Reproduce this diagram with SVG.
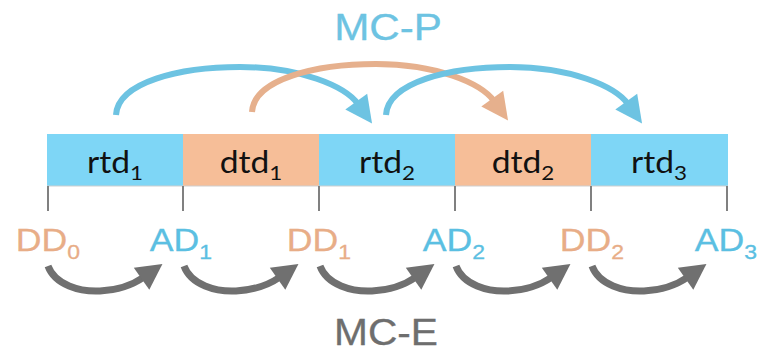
<svg xmlns="http://www.w3.org/2000/svg" width="761" height="353" viewBox="0 0 761 353">
<style>
.rt{fill:#7ED6F6}
.dt{fill:#F6BE98}
.bt{font-family:Lato,"Open Sans",sans-serif;font-size:30px;fill:#111}
.bs{font-size:20px}
.tick{stroke:#808080;stroke-width:2}
.lb{font-family:"Liberation Sans",Arial,sans-serif;font-size:31px;stroke-width:0.3}
.ls{font-size:20px}
.dd{fill:#E8AD87;stroke:#E8AD87}
.ad{fill:#5BBFE2;stroke:#5BBFE2}
.ttl{font-family:"Liberation Sans",Arial,sans-serif;font-size:37px;stroke-width:0.3}
.pb{fill:none;stroke:#6DC3E2;stroke-width:6}
.po{fill:none;stroke:#E6B08D;stroke-width:6}
.pe{fill:none;stroke:#707070;stroke-width:7}
</style>
<defs>
<marker id="mb" markerUnits="userSpaceOnUse" markerWidth="30" markerHeight="30" refX="2" refY="0" viewBox="0 -10 20 20" orient="auto" overflow="visible"><path d="M0,-9 L18,0 L0,9 z" fill="#6DC3E2"/></marker>
<marker id="mo" markerUnits="userSpaceOnUse" markerWidth="30" markerHeight="30" refX="2" refY="0" viewBox="0 -10 20 20" orient="auto" overflow="visible"><path d="M0,-9 L18,0 L0,9 z" fill="#E6B08D"/></marker>
<marker id="me" markerUnits="userSpaceOnUse" markerWidth="30" markerHeight="30" refX="2" refY="0" viewBox="0 -10 20 20" orient="auto" overflow="visible"><path d="M0,-9 L17,0 L0,9 z" fill="#707070"/></marker>
</defs>
<g id="title-mcp"><text class="ttl" transform="translate(388,40) scale(1.14,1)" text-anchor="middle" fill="#6DC3E2" stroke="#6DC3E2">MC-P</text></g>
<g id="title-mce"><text class="ttl" transform="translate(386,345) scale(1.1,1)" text-anchor="middle" fill="#6E6E6E" stroke="#6E6E6E">MC-E</text></g>
<g id="seg-rtd1"><rect class="rt" x="47" y="134" width="136" height="52"/><text class="bt" transform="translate(115,173) scale(1.12,1)" text-anchor="middle">rtd<tspan class="bs" dy="7">1</tspan></text></g>
<g id="seg-dtd1"><rect class="dt" x="183" y="134" width="136" height="52"/><text class="bt" transform="translate(251,173) scale(1.12,1)" text-anchor="middle">dtd<tspan class="bs" dy="7">1</tspan></text></g>
<g id="seg-rtd2"><rect class="rt" x="319" y="134" width="136" height="52"/><text class="bt" transform="translate(387,173) scale(1.12,1)" text-anchor="middle">rtd<tspan class="bs" dy="7">2</tspan></text></g>
<g id="seg-dtd2"><rect class="dt" x="455" y="134" width="136" height="52"/><text class="bt" transform="translate(523,173) scale(1.12,1)" text-anchor="middle">dtd<tspan class="bs" dy="7">2</tspan></text></g>
<g id="seg-rtd3"><rect class="rt" x="591" y="134" width="137" height="52"/><text class="bt" transform="translate(659,173) scale(1.12,1)" text-anchor="middle">rtd<tspan class="bs" dy="7">3</tspan></text></g>
<g id="ticks">
<line x1="47" y1="186" x2="728" y2="186" stroke="#cfcfcf" stroke-width="1"/>
<line class="tick" x1="48" y1="186" x2="48" y2="211"/>
<line class="tick" x1="183" y1="186" x2="183" y2="211"/>
<line class="tick" x1="319" y1="186" x2="319" y2="211"/>
<line class="tick" x1="455" y1="186" x2="455" y2="211"/>
<line class="tick" x1="591" y1="186" x2="591" y2="211"/>
<line class="tick" x1="727" y1="186" x2="727" y2="211"/>
</g>
<g id="lbl-dd0"><text class="lb dd" transform="translate(48,251) scale(1.15,1)" text-anchor="middle">DD<tspan class="ls" dy="8">0</tspan></text></g>
<g id="lbl-ad1"><text class="lb ad" transform="translate(181,251) scale(1.15,1)" text-anchor="middle">AD<tspan class="ls" dy="8">1</tspan></text></g>
<g id="lbl-dd1"><text class="lb dd" transform="translate(319,251) scale(1.15,1)" text-anchor="middle">DD<tspan class="ls" dy="8">1</tspan></text></g>
<g id="lbl-ad2"><text class="lb ad" transform="translate(454,251) scale(1.15,1)" text-anchor="middle">AD<tspan class="ls" dy="8">2</tspan></text></g>
<g id="lbl-dd2"><text class="lb dd" transform="translate(592,251) scale(1.15,1)" text-anchor="middle">DD<tspan class="ls" dy="8">2</tspan></text></g>
<g id="lbl-ad3"><text class="lb ad" transform="translate(726,251) scale(1.15,1)" text-anchor="middle">AD<tspan class="ls" dy="8">3</tspan></text></g>
<g id="connectors">
<path class="pb" marker-end="url(#mb)" d="M116,115 C118,82 180,67 240,67 C300,67 345,86 358,104"/>
<path class="po" marker-end="url(#mo)" transform="translate(136,-3)" d="M116,115 C118,82 180,67 240,67 C300,67 345,86 358,104"/>
<path class="pb" marker-end="url(#mb)" transform="translate(270,0)" d="M116,115 C118,82 180,67 240,67 C300,67 345,86 358,104"/>
<path class="pe" marker-end="url(#me)" d="M48,266 C55,285 80,292 100,291 C120,290 134,284 144,277"/>
<path class="pe" marker-end="url(#me)" transform="translate(136,0)" d="M48,266 C55,285 80,292 100,291 C120,290 134,284 144,277"/>
<path class="pe" marker-end="url(#me)" transform="translate(272,0)" d="M48,266 C55,285 80,292 100,291 C120,290 134,284 144,277"/>
<path class="pe" marker-end="url(#me)" transform="translate(408,0)" d="M48,266 C55,285 80,292 100,291 C120,290 134,284 144,277"/>
<path class="pe" marker-end="url(#me)" transform="translate(544,0)" d="M48,266 C55,285 80,292 100,291 C120,290 134,284 144,277"/>
</g>
</svg>
